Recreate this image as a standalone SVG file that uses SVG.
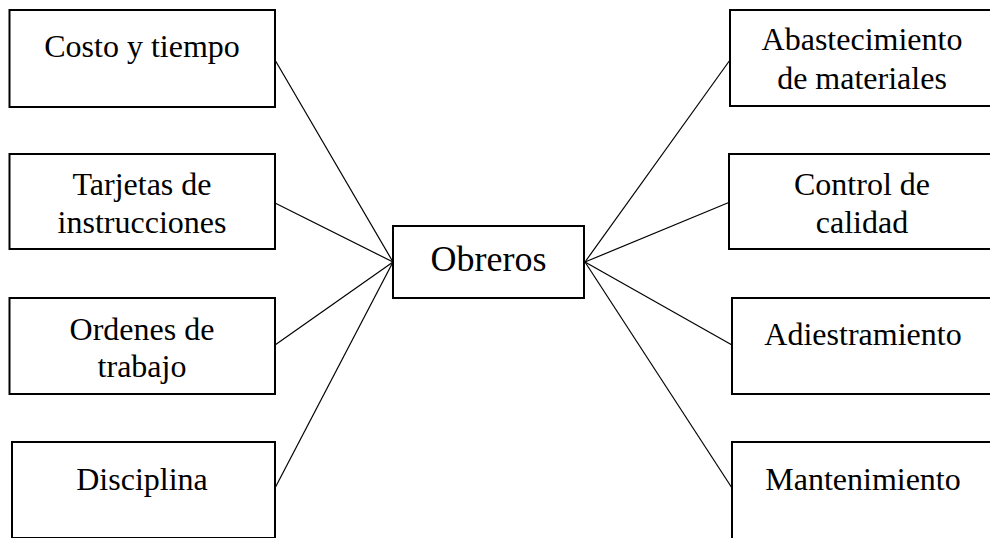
<svg xmlns="http://www.w3.org/2000/svg" width="990" height="538" viewBox="0 0 990 538">
  <style>
    .box { fill: #ffffff; stroke: #000000; stroke-width: 2; }
    .lbl { font-family: "Liberation Serif", "Times New Roman", serif; font-size: 32px; fill: #000000; text-anchor: middle; }
    .hub { font-size: 36px; }
    .link { stroke: #000000; stroke-width: 1.2; fill: none; }
  </style>
  <rect width="990" height="538" fill="#ffffff"/>

  <!-- connectors from the hub to each topic -->
  <g id="connectors">
    <line class="link" x1="275" y1="60" x2="393" y2="262"/>
    <line class="link" x1="275" y1="203" x2="393" y2="262"/>
    <line class="link" x1="275" y1="345" x2="393" y2="262"/>
    <line class="link" x1="275" y1="488" x2="393" y2="262"/>
    <line class="link" x1="730" y1="60" x2="585" y2="262"/>
    <line class="link" x1="730" y1="202" x2="585" y2="262"/>
    <line class="link" x1="732" y1="345" x2="585" y2="262"/>
    <line class="link" x1="732" y1="488" x2="585" y2="262"/>
  </g>

  <!-- left column -->
  <g id="costo-tiempo">
    <rect class="box" x="9.5" y="10" width="265.5" height="97"/>
    <text class="lbl" x="142" y="57">Costo y tiempo</text>
  </g>
  <g id="tarjetas">
    <rect class="box" x="9.5" y="154" width="265.5" height="95"/>
    <text class="lbl" x="142" y="195">Tarjetas de</text>
    <text class="lbl" x="142" y="233">instrucciones</text>
  </g>
  <g id="ordenes">
    <rect class="box" x="9.5" y="298" width="265.5" height="96"/>
    <text class="lbl" x="142" y="340">Ordenes de</text>
    <text class="lbl" x="142" y="377">trabajo</text>
  </g>
  <g id="disciplina">
    <rect class="box" x="12" y="442" width="263" height="96"/>
    <text class="lbl" x="142" y="490">Disciplina</text>
  </g>

  <!-- hub -->
  <g id="obreros">
    <rect class="box" x="393" y="226" width="191" height="72"/>
    <text class="lbl hub" x="488.5" y="271">Obreros</text>
  </g>

  <!-- right column -->
  <g id="abastecimiento">
    <rect class="box" x="730" y="10" width="266" height="96"/>
    <text class="lbl" x="862" y="50">Abastecimiento</text>
    <text class="lbl" x="862" y="89">de materiales</text>
  </g>
  <g id="control-calidad">
    <rect class="box" x="729" y="154" width="267" height="95"/>
    <text class="lbl" x="862" y="195">Control de</text>
    <text class="lbl" x="862" y="233">calidad</text>
  </g>
  <g id="adiestramiento">
    <rect class="box" x="732" y="298" width="264" height="96"/>
    <text class="lbl" x="863" y="345">Adiestramiento</text>
  </g>
  <g id="mantenimiento">
    <rect class="box" x="732" y="442" width="264" height="97"/>
    <text class="lbl" x="863" y="490">Mantenimiento</text>
  </g>
</svg>
